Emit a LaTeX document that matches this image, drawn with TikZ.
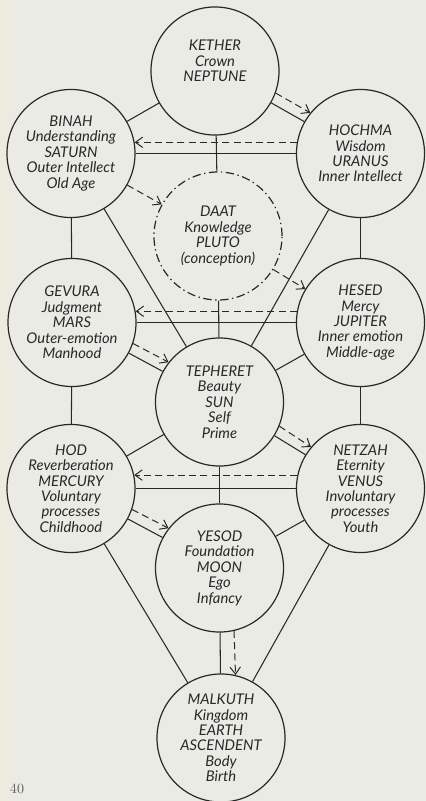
\documentclass[tikz,border=0pt]{standalone}
\usepackage{fontspec}
\setsansfont{Lato}
\usepackage{tikz}
\usetikzlibrary{arrows.meta,positioning}
\definecolor{paper}{RGB}{234,235,229}
\definecolor{paperedge}{RGB}{237,235,223}
\definecolor{ink}{RGB}{40,40,40}

\begin{document}
\begin{tikzpicture}[
  x=0.025cm, y=-0.025cm,
  font={\sffamily\itshape\fontsize{10.5}{11}\selectfont},
  sefira/.style={circle, draw=ink, line width=0.85pt, minimum size=3.2cm, inner sep=0pt, align=center, text=ink},
  hidden/.style={sefira, dash pattern=on 6pt off 2.5pt on 1pt off 2.5pt},
  link/.style={ink, line width=0.75pt},
  flash/.style={ink, line width=0.7pt, dash pattern=on 5pt off 3pt, -{Straight Barb[length=1.8mm,width=2.6mm]}}
]
% page
\fill[paper] (0,0) rectangle (426,801);
\fill[paperedge] (0,0) rectangle (12,801);
\useasboundingbox (0,0) rectangle (426,801);

% the ten sefirot and daat
\node[sefira] (kether) at (215,71) {KETHER\\ Crown\\ NEPTUNE\\[3pt]};
\node[sefira] (binah) at (71,153.5) {BINAH\\ Understanding\\ SATURN\\ Outer Intellect\\ Old Age};
\node[sefira] (hochma) at (360.5,153.5) {HOCHMA\\ Wisdom\\ URANUS\\ Inner Intellect};
\node[hidden] (daat) at (218,236) {DAAT\\ Knowledge\\ PLUTO\\ (conception)};
\node[sefira] (gevura) at (72,322.5) {GEVURA\\ Judgment\\ MARS\\ Outer-emotion\\ Manhood};
\node[sefira] (hesed) at (360.5,322.5) {HESED\\ Mercy\\ JUPITER\\ Inner emotion\\ Middle-age};
\node[sefira] (tepheret) at (219.5,402) {TEPHERET\\ Beauty\\ SUN\\ Self\\ Prime};
\node[sefira] (hod) at (71,488.5) {HOD\\ Reverberation\\ MERCURY\\ Voluntary\\ processes\\ Childhood};
\node[sefira] (netzah) at (360.5,488.5) {NETZAH\\ Eternity\\ VENUS\\ Involuntary\\ processes\\ Youth};
\node[sefira] (yesod) at (219.5,568) {YESOD\\ Foundation\\ MOON\\ Ego\\ Infancy};
\node[sefira] (malkuth) at (221,738) {MALKUTH\\ Kingdom\\ EARTH\\ ASCENDENT\\ Body\\ Birth};
\node[font=\rmfamily\fontsize{10}{12}\selectfont, text=ink!75] (folio) at (17,789) {\oldstylenums{40}};

% paths
\draw[link] (kether)--(binah); \draw[link] (kether)--(hochma); \draw[link] (kether)--(daat);
\draw[link] (daat)--(tepheret); \draw[link] (binah)--(hochma); \draw[link] (binah)--(gevura);
\draw[link] (binah)--(tepheret); \draw[link] (hochma)--(hesed); \draw[link] (hochma)--(tepheret);
\draw[link] (gevura)--(hesed); \draw[link] (gevura)--(tepheret); \draw[link] (hesed)--(tepheret);
\draw[link] (gevura)--(hod); \draw[link] (hesed)--(netzah); \draw[link] (tepheret)--(hod);
\draw[link] (tepheret)--(netzah); \draw[link] (tepheret)--(yesod); \draw[link] (hod)--(netzah);
\draw[link] (hod)--(yesod); \draw[link] (netzah)--(yesod); \draw[link] (hod)--(malkuth);
\draw[link] (netzah)--(malkuth); \draw[link] (yesod)--(malkuth);

% lightning flash
\draw[flash] (kether.-20)--(hochma.141); \draw[flash] (hochma.170)--(binah.10);
\draw[flash] (binah)--(daat); \draw[flash] (daat)--(hesed);
\draw[flash] (hesed.170)--(gevura.10); \draw[flash] (gevura.-19)--(tepheret.142);
\draw[flash] (tepheret.-22)--(netzah.140); \draw[flash] (netzah.168)--(hod.12);
\draw[flash] (hod.-19)--(yesod.142); \draw[flash] (yesod.-77)--(malkuth.77);
\end{tikzpicture}
\end{document}
